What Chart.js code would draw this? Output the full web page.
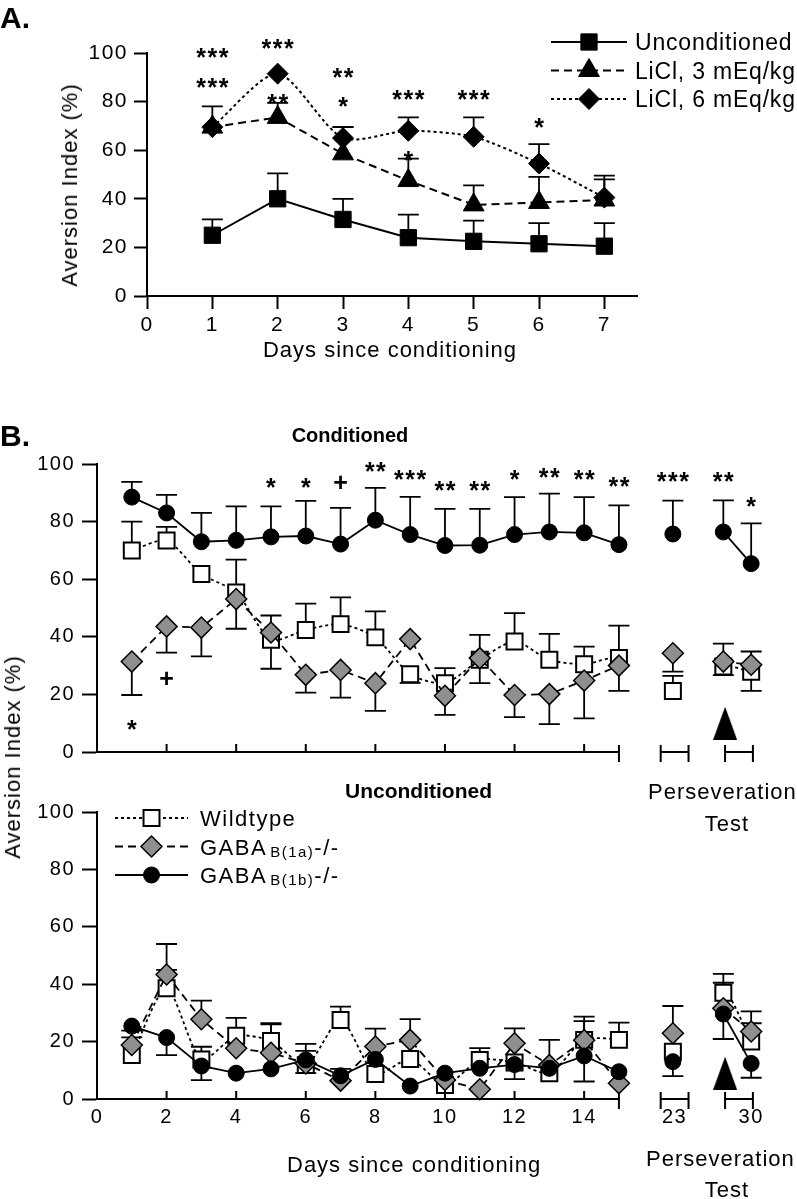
<!DOCTYPE html>
<html>
<head>
<meta charset="utf-8">
<title>Aversion index</title>
<script src="https://cdn.jsdelivr.net/npm/chart.js@4.4.1/dist/chart.umd.min.js"></script>
<style>
  html, body { margin: 0; padding: 0; background: #fff; }
  body { position: relative; width: 797px; height: 1199px; overflow: hidden;
         font-family: "Liberation Sans", Arial, Helvetica, sans-serif; color: #000; }
  canvas { position: absolute; left: 0; }
  .t { position: absolute; white-space: nowrap; line-height: 1; letter-spacing: 1px; font-size: 22px; }
  .b { font-weight: bold; letter-spacing: 0; }
  .rot { transform: translate(-50%, -50%) rotate(-90deg); }
  .mid { transform: translateX(-50%); }
</style>
</head>
<body>
<canvas id="chartA" width="797" height="380" style="top:0"></canvas>
<canvas id="chartCond" width="797" height="360" style="top:430px"></canvas>
<canvas id="chartUncond" width="797" height="409" style="top:790px"></canvas>

<div class="t b" style="left:0; top:3px; font-size:30px">A.</div>
<div class="t rot" style="left:70px; top:185px">Aversion Index (%)</div>
<div class="t mid" style="left:390px; top:339px">Days since conditioning</div>

<div class="t b" style="left:0; top:421px; font-size:30px">B.</div>
<div class="t b mid" style="left:350px; top:425px; font-size:20px">Conditioned</div>
<div class="t b" style="left:345px; top:780px; font-size:21px">Unconditioned</div>
<div class="t" style="left:648px; top:781px">Perseveration</div>
<div class="t mid" style="left:727px; top:813px">Test</div>
<div class="t rot" style="left:13px; top:757px">Aversion Index (%)</div>
<div class="t" style="left:287px; top:1154px">Days since conditioning</div>
<div class="t" style="left:646px; top:1148px">Perseveration</div>
<div class="t mid" style="left:727px; top:1179px">Test</div>

<script>
// ---------- Panel A : taste aversion after LiCl ----------
const daysA = [1, 2, 3, 4, 5, 6, 7];
const uncondA = [25, 40, 31.5, 24, 22.5, 21.5, 20.5];
const uncondAErr = [6.5, 10.5, 8.5, 9.5, 8.5, 8.5, 9.5];
const licl3A = [69.5, 73.5, 58.5, 47.5, 37.5, 38.5, 39.5];
const licl3AErr = [8.5, 6, 11, 9, 8, 10.5, 8.5];
const licl6A = [69.5, 91.5, 65, 68, 65.5, 54.5, 40.5];
const licl6AErr = [0, 0, 4.5, 5.5, 8, 8, 9];
const xTicksA = [0, 1, 2, 3, 4, 5, 6, 7];
const yTicks = [0, 20, 40, 60, 80, 100];
// [day, height, text]
const starsA = [
  [1, 101, '***'], [1, 88.5, '***'], [2, 104.5, '***'], [2, 82, '**'],
  [3, 92.5, '**'], [3, 80.5, '*'], [4, 83.5, '***'], [4, 58.5, '*'],
  [5, 83.5, '***'], [6, 72, '*']
];

// ---------- Panel B : GABA-B mutants ----------
// sessions 1..15, then the perseveration tests (day 23, two sessions at day 30) placed after the axis break
const sessionsB = [1, 2, 3, 4, 5, 6, 7, 8, 9, 10, 11, 12, 13, 14, 15, 16.55, 18.0, 18.8];
const xTickPosB = [0, 2, 4, 6, 8, 10, 12, 14, 16.6, 18.8];
const xTickLabelB = ['0', '2', '4', '6', '8', '10', '12', '14', '23', '30'];
const axisPiecesB = [[0, 15], [16.2, 17.0], [18.05, 18.85]];
const axisCapsB = [15, 16.2, 17.0, 18.05, 18.85];
const innerTicksB = [2, 4, 6, 8, 10, 12, 14];
const breaksB = [14, 15]; // no line after these indexes

const condB1b = [88.5, 83, 73, 73.5, 74.7, 75, 72.2, 80.5, 75.5, 71.7, 71.8, 75.5, 76.4, 76.1, 72, 75.7, 76.4, 65.4];
const condB1bErr = [5.3, 6.3, 10, 11.8, 10.6, 12.2, 12.6, 11.2, 13.1, 12.7, 12.6, 13, 13.3, 12.4, 13.6, 11.6, 11, 14];
const condWt = [70, 73.4, 61.8, 55.4, 39, 42.4, 44.4, 39.8, 27, 23.9, 32, 38.4, 32, 30.5, 32.6, 21.2, 29.7, 27.9];
const condWtErr = [10, 4.8, 0, 11.4, -10.1, 9.1, 9.3, 9, -3, 5.2, 8.7, 9.8, 9, 6.1, 11.3, 5.2, -3, -6.7];
const condB1a = [31.4, 43.6, 43.2, 53.1, 41.5, 26.8, 28.5, 23.9, 39.2, 19.5, 32.6, 19.8, 20.1, 24.8, 30, 34.3, 31.4, 30.3];
const condB1aErr = [-11.6, -9.1, -10, -10.3, 5.9, -6.2, -9.6, -9.6, 0, -6.6, -8.7, -7.7, -10.4, -13.1, -8.8, -6.4, 6.2, 4.6];
const starsCond = [
  [1, 10, '*'], [2, 25.5, '+'], [5, 94, '*'], [6, 94, '*'], [7, 93.5, '+'],
  [8, 99.5, '**'], [9, 97, '***'], [10, 93, '**'], [11, 93, '**'], [12, 97, '*'],
  [13, 97.7, '**'], [14, 97, '**'], [15, 94.3, '**'], [16.55, 96.3, '***'],
  [18.0, 96.3, '**'], [18.8, 87.6, '*']
];

const uncondB1b = [25.4, 21.4, 11.5, 9, 10.5, 13.6, 8.1, 13.8, 4.5, 9, 10.7, 12, 10.7, 15, 9.5, 13, 29.6, 12.4];
const uncondB1bErr = [0, -6.1, -4.9, 0, 0, 5.6, 2.4, 0, 0, 0, 0, 0, 0, -8.9, 0, -5, -8.7, -5];
const uncondWt = [15.3, 38.6, 13.8, 22, 20.2, 11.8, 27.5, 8.7, 13.9, 4.9, 13.6, 12.7, 9, 20.6, 20.6, 16.5, 37, 20];
const uncondWtErr = [6.2, 6.4, 4.4, 6.3, 6.2, -2.8, 4.7, 0, 0, 0, 4.1, -5.8, 3, 8.1, 6, 0, 6.6, 6.4];
const uncondB1a = [18.8, 43.4, 27.8, 17.7, 16.1, 12.4, 6.4, 18.3, 20.6, 6.6, 3.4, 19.4, 11.8, 20.5, 5.5, 22.9, 31.6, 23.5];
const uncondB1aErr = [5, 10.6, 6.5, 0, 9.9, 4.4, 0, 6.2, 7.2, 0, 0, 5.2, 8.8, 6.6, 0, 9.5, 8.9, 7];

// drug arrow under the day-30 test
const arrowX = 18.05;
const arrowCondY = 10;
const arrowUncondY = 9;

const FONT = '"Liberation Sans", Arial, Helvetica, sans-serif';
const GREY = '#8f8f8f';

function pts(xs, ys) {
  return xs.map((x, i) => ({ x: x, y: ys[i] }));
}

const styleUncondA = { borderWidth: 2, borderDash: [], pointStyle: 'rect', pointRadius: 11.5, pointBackgroundColor: '#000', pointBorderWidth: 1, tension: 0 };
const styleLicl3 = { borderWidth: 2, borderDash: [8, 5], pointStyle: 'triangle', pointRadius: 12, pointBackgroundColor: '#000', pointBorderWidth: 1, tension: 0 };
const styleLicl6 = { borderWidth: 2, borderDash: [3, 3], pointStyle: 'rectRot', pointRadius: 10.5, pointBackgroundColor: '#000', pointBorderWidth: 1, tension: 0.25 };
const styleWt = { borderWidth: 1.8, borderDash: [3, 3], pointStyle: 'rect', pointRadius: 11.3, pointBackgroundColor: '#fff', pointBorderWidth: 2, tension: 0.25 };
const style1a = { borderWidth: 1.8, borderDash: [8, 5], pointStyle: 'rectRot', pointRadius: 10.5, pointBackgroundColor: GREY, pointBorderWidth: 1.5, tension: 0 };
const style1b = { borderWidth: 1.8, borderDash: [], pointStyle: 'circle', pointRadius: 8, pointBackgroundColor: '#000', pointBorderWidth: 1, tension: 0 };

function makeDataset(label, xs, ys, errs, style, breaks) {
  const d = Object.assign({
    label: label,
    data: pts(xs, ys),
    errors: errs,
    borderColor: '#000',
    pointBorderColor: '#000',
    pointHoverRadius: style.pointRadius,
    fill: false,
    clip: false
  }, style);
  if (breaks) {
    d.segment = {
      borderColor: c => breaks.indexOf(c.p0DataIndex) >= 0 ? 'rgba(0,0,0,0)' : '#000'
    };
  }
  return d;
}

// triangle used as the drug arrow marker
const arrowImg = document.createElement('canvas');
arrowImg.width = 24;
arrowImg.height = 33;
(function () {
  const a = arrowImg.getContext('2d');
  a.fillStyle = '#000';
  a.beginPath();
  a.moveTo(12, 0);
  a.lineTo(24, 33);
  a.lineTo(0, 33);
  a.closePath();
  a.fill();
})();

function arrowDataset(y) {
  return { label: 'arrow', data: [{ x: arrowX, y: y }], pointStyle: arrowImg, pointRadius: 5, showLine: false, clip: false };
}

function drawMarker(ctx, style, x, y, r, fill, lw) {
  ctx.save();
  ctx.fillStyle = fill;
  ctx.strokeStyle = '#000';
  ctx.lineWidth = lw;
  ctx.setLineDash([]);
  ctx.beginPath();
  if (style === 'rect') {
    const s = r * Math.SQRT1_2;
    ctx.rect(x - s, y - s, 2 * s, 2 * s);
  } else if (style === 'rectRot') {
    ctx.moveTo(x - r, y); ctx.lineTo(x, y - r); ctx.lineTo(x + r, y); ctx.lineTo(x, y + r);
    ctx.closePath();
  } else if (style === 'triangle') {
    const w = r * 0.866;
    ctx.moveTo(x, y - r); ctx.lineTo(x + w, y + r / 2); ctx.lineTo(x - w, y + r / 2);
    ctx.closePath();
  } else {
    ctx.arc(x, y, r, 0, Math.PI * 2);
  }
  ctx.fill();
  if (lw) ctx.stroke();
  ctx.restore();
}

// ----- plugins -----
const spacing = {
  id: 'spacing',
  beforeLayout(chart) { chart.ctx.letterSpacing = '1.5px'; },
  beforeDraw(chart) { chart.ctx.letterSpacing = '1.5px'; }
};

const errorBars = {
  id: 'errorBars',
  beforeDatasetsDraw(chart) {
    const ctx = chart.ctx;
    const xs = chart.scales.x, ys = chart.scales.y;
    ctx.save();
    ctx.strokeStyle = '#000';
    ctx.lineWidth = 1.8;
    ctx.setLineDash([]);
    chart.data.datasets.forEach(ds => {
      if (!ds.errors) return;
      ds.data.forEach((p, i) => {
        const e = ds.errors[i];
        if (!e) return;
        const px = xs.getPixelForValue(p.x);
        const y0 = ys.getPixelForValue(p.y);
        const y1 = ys.getPixelForValue(p.y + e);
        ctx.beginPath();
        ctx.moveTo(px, y0);
        ctx.lineTo(px, y1);
        ctx.moveTo(px - 10.5, y1);
        ctx.lineTo(px + 10.5, y1);
        ctx.stroke();
      });
    });
    ctx.restore();
  }
};

function starPlugin(items) {
  return {
    id: 'stars',
    afterDatasetsDraw(chart) {
      const ctx = chart.ctx, xs = chart.scales.x, ys = chart.scales.y;
      ctx.save();
      ctx.fillStyle = '#000';
      ctx.textAlign = 'center';
      ctx.textBaseline = 'alphabetic';
      ctx.letterSpacing = '1.5px';
      ctx.font = 'bold 25px ' + FONT;
      items.forEach(s => {
        const lift = s[2][0] === '+' ? 0.34 : 0.6;
        ctx.fillText(s[2], xs.getPixelForValue(s[0]) + 0.75, ys.getPixelForValue(s[1]) + 25 * lift);
      });
      ctx.restore();
    }
  };
}

function legendPlugin(items, box) {
  return {
    id: 'lineLegend',
    afterDraw(chart) {
      const ctx = chart.ctx;
      items.forEach((it, k) => {
        const y = box.y + k * box.dy;
        ctx.save();
        ctx.strokeStyle = '#000';
        ctx.lineWidth = it.style.borderWidth;
        ctx.setLineDash(it.style.borderDash);
        ctx.beginPath();
        ctx.moveTo(box.x0, y);
        ctx.lineTo(box.x1, y);
        ctx.stroke();
        ctx.restore();
        drawMarker(ctx, it.style.pointStyle, (box.x0 + box.x1) / 2, y, it.style.pointRadius,
                   it.style.pointBackgroundColor, it.style.pointBorderWidth);
        let tx = box.tx;
        ctx.save();
        ctx.fillStyle = '#000';
        ctx.textAlign = 'left';
        ctx.textBaseline = 'alphabetic';
        ctx.letterSpacing = box.spacing;
        it.parts.forEach(p => {
          ctx.font = p.size + 'px ' + FONT;
          ctx.fillText(p.text, tx, y + box.base + (p.dy || 0));
          tx += ctx.measureText(p.text).width + (p.gap || 0);
        });
        ctx.restore();
      });
    }
  };
}

const brokenAxis = {
  id: 'brokenAxis',
  afterDraw(chart) {
    const ctx = chart.ctx, xs = chart.scales.x;
    const yb = chart.chartArea.bottom;
    ctx.save();
    ctx.strokeStyle = '#000';
    ctx.lineWidth = 2;
    ctx.setLineDash([]);
    ctx.beginPath();
    axisPiecesB.forEach(p => {
      ctx.moveTo(xs.getPixelForValue(p[0]) - 1, yb);
      ctx.lineTo(xs.getPixelForValue(p[1]), yb);
    });
    axisCapsB.forEach(v => {
      const px = xs.getPixelForValue(v);
      ctx.moveTo(px, yb - 7);
      ctx.lineTo(px, yb + 10);
    });
    innerTicksB.forEach(v => {
      const px = xs.getPixelForValue(v);
      ctx.moveTo(px, yb - 8);
      ctx.lineTo(px, yb);
    });
    ctx.stroke();
    ctx.restore();
  }
};

function yScale(width, fontSize, tickLen, pad) {
  return {
    type: 'linear', min: 0, max: 100,
    afterBuildTicks: s => { s.ticks = yTicks.map(v => ({ value: v })); },
    afterFit: s => { s.width = width; },
    grid: { drawOnChartArea: false, tickLength: tickLen, tickColor: '#000', tickWidth: 2 },
    border: { display: true, color: '#000', width: 2 },
    ticks: { color: '#000', padding: pad, font: { size: fontSize, family: FONT } }
  };
}

Chart.defaults.font.family = FONT;

// ----- Panel A -----
new Chart(document.getElementById('chartA'), {
  type: 'line',
  data: {
    datasets: [
      makeDataset('LiCl, 6 mEq/kg', daysA, licl6A, licl6AErr, styleLicl6),
      makeDataset('LiCl, 3 mEq/kg', daysA, licl3A, licl3AErr, styleLicl3),
      makeDataset('Unconditioned', daysA, uncondA, uncondAErr, styleUncondA)
    ]
  },
  options: {
    responsive: false,
    animation: false,
    layout: { padding: { top: 53, right: 160, left: 0, bottom: 0 } },
    plugins: { legend: { display: false }, tooltip: { enabled: false } },
    scales: {
      x: {
        type: 'linear', min: 0, max: 7.5,
        afterBuildTicks: s => { s.ticks = xTicksA.map(v => ({ value: v })); },
        afterFit: s => { s.height = 84; },
        grid: { drawOnChartArea: false, tickLength: 13, tickColor: '#000', tickWidth: 2 },
        border: { display: true, color: '#000', width: 2 },
        ticks: { color: '#000', padding: 4, maxRotation: 0, autoSkip: false, font: { size: 21, family: FONT } }
      },
      y: yScale(147, 21, 13, 6)
    }
  },
  plugins: [spacing, errorBars, starPlugin(starsA), legendPlugin([
    { style: styleUncondA, parts: [{ text: 'Unconditioned', size: 23 }] },
    { style: styleLicl3, parts: [{ text: 'LiCl, 3 mEq/kg', size: 23 }] },
    { style: styleLicl6, parts: [{ text: 'LiCl, 6 mEq/kg', size: 23 }] }
  ], { x0: 551, x1: 627, tx: 635, y: 42, dy: 28.5, base: 8, spacing: '0.8px' })]
});

// ----- Panel B, conditioned -----
function xScaleB(height, showLabels) {
  return {
    type: 'linear', min: 0, max: 19.6,
    afterBuildTicks: s => { s.ticks = xTickPosB.map(v => ({ value: v })); },
    afterFit: s => { s.height = height; },
    grid: { display: false, drawTicks: false },
    border: { display: false },
    ticks: {
      display: showLabels, color: '#000', padding: 6, maxRotation: 0, autoSkip: false,
      font: { size: 20, family: FONT },
      callback: (v, i) => xTickLabelB[i]
    }
  };
}

new Chart(document.getElementById('chartCond'), {
  type: 'line',
  data: {
    datasets: [
      makeDataset('GABAB(1b)-/-', sessionsB, condB1b, condB1bErr, style1b, breaksB),
      makeDataset('GABAB(1a)-/-', sessionsB, condB1a, condB1aErr, style1a, breaksB),
      makeDataset('Wildtype', sessionsB, condWt, condWtErr, styleWt, breaksB),
      arrowDataset(arrowCondY)
    ]
  },
  options: {
    responsive: false,
    animation: false,
    layout: { padding: { top: 34, right: 18, left: 0, bottom: 0 } },
    plugins: { legend: { display: false }, tooltip: { enabled: false } },
    scales: { x: xScaleB(38, false), y: yScale(97, 20, 15, 7) }
  },
  plugins: [spacing, errorBars, starPlugin(starsCond), brokenAxis]
});

// ----- Panel B, unconditioned -----
new Chart(document.getElementById('chartUncond'), {
  type: 'line',
  data: {
    datasets: [
      makeDataset('GABAB(1b)-/-', sessionsB, uncondB1b, uncondB1bErr, style1b, breaksB),
      makeDataset('GABAB(1a)-/-', sessionsB, uncondB1a, uncondB1aErr, style1a, breaksB),
      makeDataset('Wildtype', sessionsB, uncondWt, uncondWtErr, styleWt, breaksB),
      arrowDataset(arrowUncondY)
    ]
  },
  options: {
    responsive: false,
    animation: false,
    layout: { padding: { top: 22, right: 18, left: 0, bottom: 0 } },
    plugins: { legend: { display: false }, tooltip: { enabled: false } },
    scales: { x: xScaleB(100, true), y: yScale(97, 20, 15, 7) }
  },
  plugins: [spacing, errorBars, brokenAxis, legendPlugin([
    { style: styleWt, parts: [{ text: 'Wildtype', size: 22 }] },
    { style: style1a, parts: [{ text: 'GABA', size: 22, gap: 3 }, { text: 'B(1a)', size: 15, dy: 2 }, { text: '-/-', size: 22 }] },
    { style: style1b, parts: [{ text: 'GABA', size: 22, gap: 3 }, { text: 'B(1b)', size: 15, dy: 2 }, { text: '-/-', size: 22 }] }
  ], { x0: 115, x1: 188, tx: 200, y: 28, dy: 28.5, base: 8, spacing: '1.5px' })]
});
</script>
</body>
</html>
